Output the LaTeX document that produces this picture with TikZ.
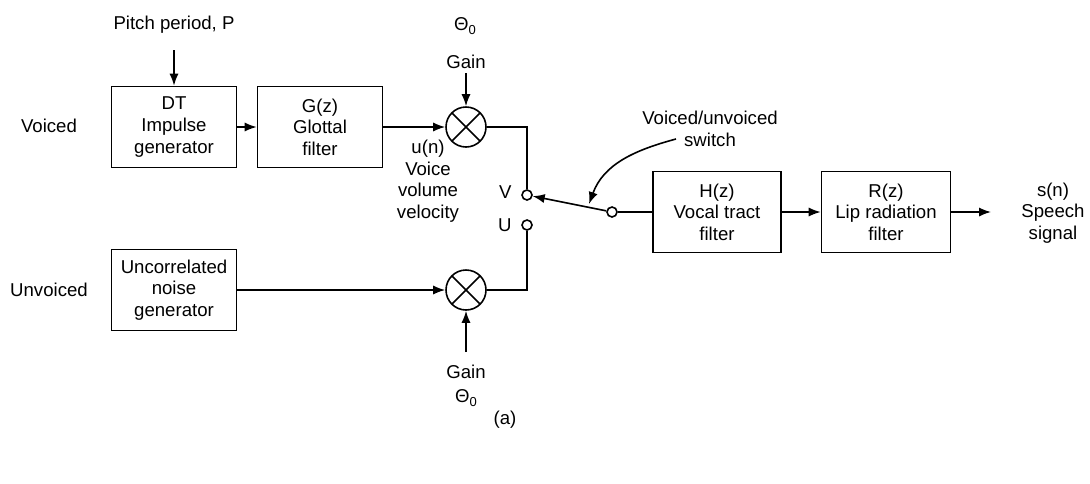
\documentclass[tikz,border=0pt]{standalone}
\usepackage{fontspec}
\setmainfont{Liberation Sans}
\usetikzlibrary{arrows.meta}

\begin{document}
\begin{tikzpicture}[
    x=0.5pt, y=-0.5pt,
    font=\fontsize{9.3}{10.8}\selectfont,
    block/.style={
        draw,
        line width=0.8pt,
        minimum width=62.5pt,
        minimum height=40.5pt,  % all boxes share one size
        inner sep=1pt,
        align=center
    },
    txt/.style={align=center, inner sep=1pt},
    mult/.style={
        draw, circle, line width=0.8pt,
        minimum size=20pt, inner sep=0pt,
        path picture={
            \draw[line width=0.8pt] (path picture bounding box.south west) -- (path picture bounding box.north east);
            \draw[line width=0.8pt] (path picture bounding box.north west) -- (path picture bounding box.south east);
        }
    },
    term/.style={draw, circle, line width=0.8pt, minimum size=5pt, inner sep=0pt, fill=white},
    sig/.style={-{Latex[length=6pt,width=4.6pt]}, line width=0.8pt},
    wire/.style={line width=0.8pt}
]
\useasboundingbox (0,0) rectangle (1090,483);

% voiced branch
\node[txt] (voiced) at (49,126) {Voiced};
\node[txt] (pitch) at (174,25) {Pitch period, P};
\coordinate (pitchin) at (174,50);
\node[block] (impulse) at (174,127) {DT\\Impulse\\generator};
\node[block] (glottal) at (320,127) {G(z)\\Glottal\\filter};
\node[mult] (multv) at (466,127) {};
\node[txt] (thetav) at (465,26) {Θ\raisebox{-0.4ex}{\fontsize{6.5}{7}\selectfont 0}};
\node[txt] (gainv) at (466,62) {Gain};
\coordinate (gainvin) at (466,73);
\node[txt] (un) at (428,181) {u(n)\\Voice\\volume\\velocity};

% unvoiced branch
\node[txt] (unvoiced) at (49,290) {Unvoiced};
\node[block] (noise) at (174,290) {Uncorrelated\\noise\\generator};
\node[mult] (multu) at (466,290) {};
\node[txt] (gainu) at (466,372) {Gain};
\node[txt] (thetau) at (466,398) {Θ\raisebox{-0.4ex}{\fontsize{6.5}{7}\selectfont 0}};
\coordinate (gainuin) at (466,352);

% switch
\node[term] (termv) at (527,195) {};
\node[term] (termu) at (527,225) {};
\node[term] (pivot) at (612,212) {};
\node[txt, anchor=east] (vlbl) at (514,192) {V};
\node[txt, anchor=east] (ulbl) at (514,225) {U};
\node[txt] (swlbl) at (710,129) {Voiced/unvoiced\\switch};
\coordinate (swfrom) at (676,139);
\coordinate (swto) at (589,204);

% vocal tract and lips
\node[block, minimum width=64pt] (tract) at (717,212) {H(z)\\Vocal tract\\filter};
\node[block, minimum width=64.5pt] (lips) at (886,212) {R(z)\\Lip radiation\\filter};
\node[txt] (speech) at (1053,213) {s(n)\\Speech\\signal};
\coordinate (out) at (991,212);

\node[txt] (cap) at (505,420) {(a)};

% connectors
\draw[sig] (pitchin) -- (impulse);
\draw[sig] (impulse) -- (glottal);
\draw[sig] (glottal) -- (multv);
\draw[sig] (gainvin) -- (multv);
\draw[wire] (multv.east) -| (termv.north);
\draw[sig] (noise) -- (multu);
\draw[sig] (gainuin) -- (multu);
\draw[wire] (multu.east) -| (termu.south);
\draw[sig] (pivot) -- (termv);
\draw[sig] (swfrom) to[out=195, in=70] (swto);
\draw[wire] (pivot) -- (tract);
\draw[sig] (tract) -- (lips);
\draw[sig] (lips.east) -- (out);
\end{tikzpicture}
\end{document}
